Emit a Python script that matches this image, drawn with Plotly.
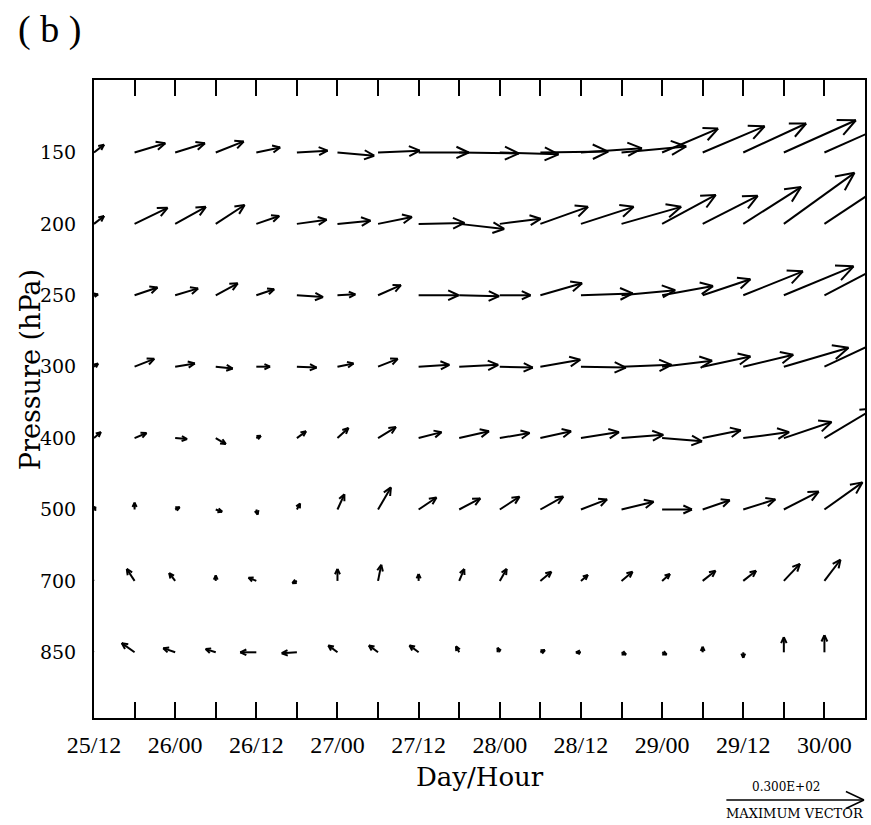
import math
import plotly.graph_objects as go

# ---------------- data (wind components, m/s) ----------------
TIME_LABELS = ["25/12", "25/18", "26/00", "26/06", "26/12", "26/18", "27/00", "27/06",
               "27/12", "27/18", "28/00", "28/06", "28/12", "28/18", "29/00", "29/06",
               "29/12", "29/18", "30/00"]
TICK_LABELS = ["25/12", "26/00", "26/12", "27/00", "27/12", "28/00", "28/12", "29/00", "29/12", "30/00"]
LEVELS = ["150", "200", "250", "300", "400", "500", "700", "850"]

U150 = [2.2, 6.7, 6.5, 6.1, 5.2, 6.7, 8.0, 9.1, 10.9, 13.0, 12.8, 14.8, 13.3, 14.1, 12.2, 13.5, 13.7, 15.7, 16.3]
V150 = [1.7, 2.0, 2.0, 2.4, 1.1, 0.4, -0.7, 0.4, 0.0, -0.2, -0.4, 0.2, 0.9, 1.3, 5.2, 5.7, 6.3, 7.0, 7.2]
U200 = [2.2, 7.2, 6.7, 6.3, 5.0, 6.5, 7.2, 7.4, 10.0, 9.8, 8.9, 10.4, 11.5, 13.0, 11.7, 12.0, 12.6, 15.4, 15.7]
V200 = [1.7, 3.5, 3.7, 4.1, 1.7, 0.9, 0.7, 1.5, 0.2, -1.1, 1.1, 3.7, 3.7, 3.7, 6.3, 6.1, 8.0, 11.1, 10.4]
U250 = [0.9, 5.0, 5.0, 4.8, 3.9, 5.7, 3.9, 5.0, 8.7, 8.7, 6.7, 9.1, 11.3, 11.7, 11.1, 10.4, 13.0, 15.2, 14.3]
V250 = [0.2, 1.7, 1.5, 2.6, 1.3, -0.4, 0.2, 2.2, 0.0, -0.2, 0.0, 2.6, 0.4, 1.1, 2.0, 3.5, 5.2, 6.3, 7.4]
U300 = [0.9, 4.3, 4.3, 3.7, 3.0, 4.3, 3.5, 4.3, 6.7, 8.5, 7.2, 8.7, 9.8, 10.9, 10.9, 10.4, 10.9, 14.1, 13.0]
V300 = [0.7, 1.7, 0.7, -0.4, 0.0, -0.2, 0.7, 1.7, 0.4, 0.4, -0.2, 1.5, -0.2, 0.4, 1.3, 2.2, 2.6, 4.1, 6.1]
U400 = [1.5, 2.6, 2.6, 2.2, 1.0, 2.0, 2.4, 3.9, 5.0, 6.5, 6.5, 6.7, 8.3, 9.1, 8.7, 8.3, 10.0, 10.4, 10.9]
V400 = [1.3, 1.1, -0.2, -1.3, 0.5, 1.5, 2.2, 2.4, 1.3, 1.5, 1.1, 1.5, 1.3, 0.7, -0.7, 1.7, 1.3, 3.5, 6.5]
U500 = [0.3, 0.0, 1.0, 1.4, 0.3, 0.7, 1.5, 2.8, 3.9, 4.6, 4.3, 5.0, 5.7, 7.0, 6.5, 5.9, 7.0, 7.6, 8.3]
V500 = [0.6, 1.5, 0.5, -0.5, -1.1, 1.3, 3.3, 4.8, 2.6, 2.4, 2.8, 2.8, 2.2, 1.7, 0.0, 2.0, 2.2, 3.9, 5.9]
U700 = [-1.3, -1.7, -1.3, 0.0, -1.7, -1.0, 0.0, 0.7, 0.0, 1.1, 1.5, 2.4, 1.5, 2.4, 1.7, 2.8, 2.8, 3.5, 3.5]
V700 = [0.9, 2.6, 1.7, 1.2, 0.7, -0.5, 2.6, 3.5, 1.5, 2.6, 2.6, 2.0, 1.3, 2.0, 1.5, 2.2, 2.2, 3.7, 4.6]
U850 = [-2.2, -2.8, -2.6, -2.2, -3.5, -3.3, -2.0, -2.0, -2.0, -0.7, -0.5, 1.0, -1.1, 1.0, 1.0, 0.0, 0.0, 0.0, 0.0]
V850 = [1.1, 2.0, 0.9, 0.7, 0.0, -0.2, 1.5, 1.5, 1.5, 1.3, 1.0, 0.5, 0.0, -0.5, -0.5, 1.2, -1.2, 3.3, 3.7]

REF_SPEED = 30.0
REF_LABEL = "0.300E+02"

U_ROWS = [U150, U200, U250, U300, U400, U500, U700, U850]
V_ROWS = [V150, V200, V250, V300, V400, V500, V700, V850]

# ---------------- geometry ----------------
W, H = 871, 825
ML, MR, MT, MB = 94, 4, 80, 107
PW, PH = W - ML - MR, H - MT - MB
STEP_H = 6
X_RANGE = [0, 114]
Y_RANGE = [7.92, -1.015]
PX_PER_H = PW / (X_RANGE[1] - X_RANGE[0])
PX_PER_LEV = PH / (Y_RANGE[0] - Y_RANGE[1])
PX_PER_MS = 4.6          # reference vector: 30 m/s ~ 138 px
HEAD_ANG = math.radians(25)


def head_len(L):
    return min(3.5 + 0.2 * L, 20.0)


xs, ys = [], []
for li, (urow, vrow) in enumerate(zip(U_ROWS, V_ROWS)):
    for ci, (u, v) in enumerate(zip(urow, vrow)):
        t0 = ci * STEP_H
        dxp, dyp = u * PX_PER_MS, v * PX_PER_MS
        L = math.hypot(dxp, dyp)
        if L < 0.5:
            continue
        x1 = t0 + dxp / PX_PER_H
        y1 = li - dyp / PX_PER_LEV
        xs += [t0, x1, None]
        ys += [li, y1, None]
        ux, uy = dxp / L, dyp / L
        h = head_len(L)
        for s in (1, -1):
            ca, sa = math.cos(s * HEAD_ANG), math.sin(s * HEAD_ANG)
            bx = (-ux * ca - (-uy) * sa) * h
            by = (-ux * sa + (-uy) * ca) * h
            xs += [x1, x1 + bx / PX_PER_H, None]
            ys += [y1, y1 - by / PX_PER_LEV, None]

fig = go.Figure()
fig.add_trace(go.Scatter(x=xs, y=ys, mode="lines",
                         line=dict(color="black", width=2),
                         hoverinfo="skip", showlegend=False))

tickvals = [i * STEP_H for i in range(len(TIME_LABELS))]
ticktext = [TIME_LABELS[i] if TIME_LABELS[i] in TICK_LABELS else "" for i in range(len(TIME_LABELS))]

fig.update_xaxes(range=X_RANGE, tickvals=tickvals, ticktext=ticktext,
                 ticks="inside", ticklen=16, tickwidth=1.5, tickcolor="black",
                 showline=True, linecolor="black", linewidth=2, mirror="ticks",
                 showgrid=False, zeroline=False, ticklabelstandoff=4,
                 tickfont=dict(family="Liberation Serif", size=24, color="black"))
fig.update_yaxes(range=Y_RANGE, tickvals=list(range(len(LEVELS))), ticktext=LEVELS,
                 ticks="", showline=True, linecolor="black", linewidth=2, mirror=True,
                 showgrid=False, zeroline=False, ticklabelstandoff=12,
                 tickfont=dict(family="DejaVu Serif", size=19, color="black"))

# reference vector (legend) in paper coordinates
def px_to_paper_x(px):
    return (px - ML) / PW

def py_to_paper_y(py):
    return (H - MB - py) / PH

ref_tip_px, ref_y_px = 866, 800
ref_len = REF_SPEED * PX_PER_MS
ref_tail_px = ref_tip_px - ref_len
hh = head_len(ref_len)
shapes = [dict(type="line", xref="paper", yref="paper",
               x0=px_to_paper_x(ref_tail_px), y0=py_to_paper_y(ref_y_px),
               x1=px_to_paper_x(ref_tip_px), y1=py_to_paper_y(ref_y_px),
               line=dict(color="black", width=1.5))]
for s in (1, -1):
    shapes.append(dict(type="line", xref="paper", yref="paper",
                       x0=px_to_paper_x(ref_tip_px), y0=py_to_paper_y(ref_y_px),
                       x1=px_to_paper_x(ref_tip_px - hh * math.cos(HEAD_ANG)),
                       y1=py_to_paper_y(ref_y_px + s * hh * math.sin(HEAD_ANG)),
                       line=dict(color="black", width=1.5)))

annotations = [
    dict(text="( b )", xref="paper", yref="paper", x=px_to_paper_x(16), y=py_to_paper_y(30),
         xanchor="left", yanchor="middle", showarrow=False,
         font=dict(family="Liberation Serif", size=38, color="black")),
    dict(text="Pressure (hPa)", xref="paper", yref="paper", x=px_to_paper_x(30), y=py_to_paper_y(370),
         xanchor="center", yanchor="middle", textangle=-90, showarrow=False,
         font=dict(family="DejaVu Serif", size=27, color="black")),
    dict(text="Day/Hour", xref="paper", yref="paper", x=px_to_paper_x(481), y=py_to_paper_y(777),
         xanchor="center", yanchor="middle", showarrow=False,
         font=dict(family="DejaVu Serif", size=26, color="black")),
    dict(text=REF_LABEL, xref="paper", yref="paper", x=px_to_paper_x(788), y=py_to_paper_y(787),
         xanchor="center", yanchor="middle", showarrow=False,
         font=dict(family="DejaVu Serif", size=12, color="black")),
    dict(text="MAXIMUM VECTOR", xref="paper", yref="paper", x=px_to_paper_x(797), y=py_to_paper_y(813),
         xanchor="center", yanchor="middle", showarrow=False,
         font=dict(family="DejaVu Serif", size=13, color="black")),
]

fig.update_layout(width=W, height=H, margin=dict(l=ML, r=MR, t=MT, b=MB),
                  plot_bgcolor="white", paper_bgcolor="white",
                  shapes=shapes, annotations=annotations, showlegend=False)

fig.write_html("out.html", config={"displayModeBar": False},
               post_script="document.body.style.margin='0';document.body.style.overflow='hidden';")
